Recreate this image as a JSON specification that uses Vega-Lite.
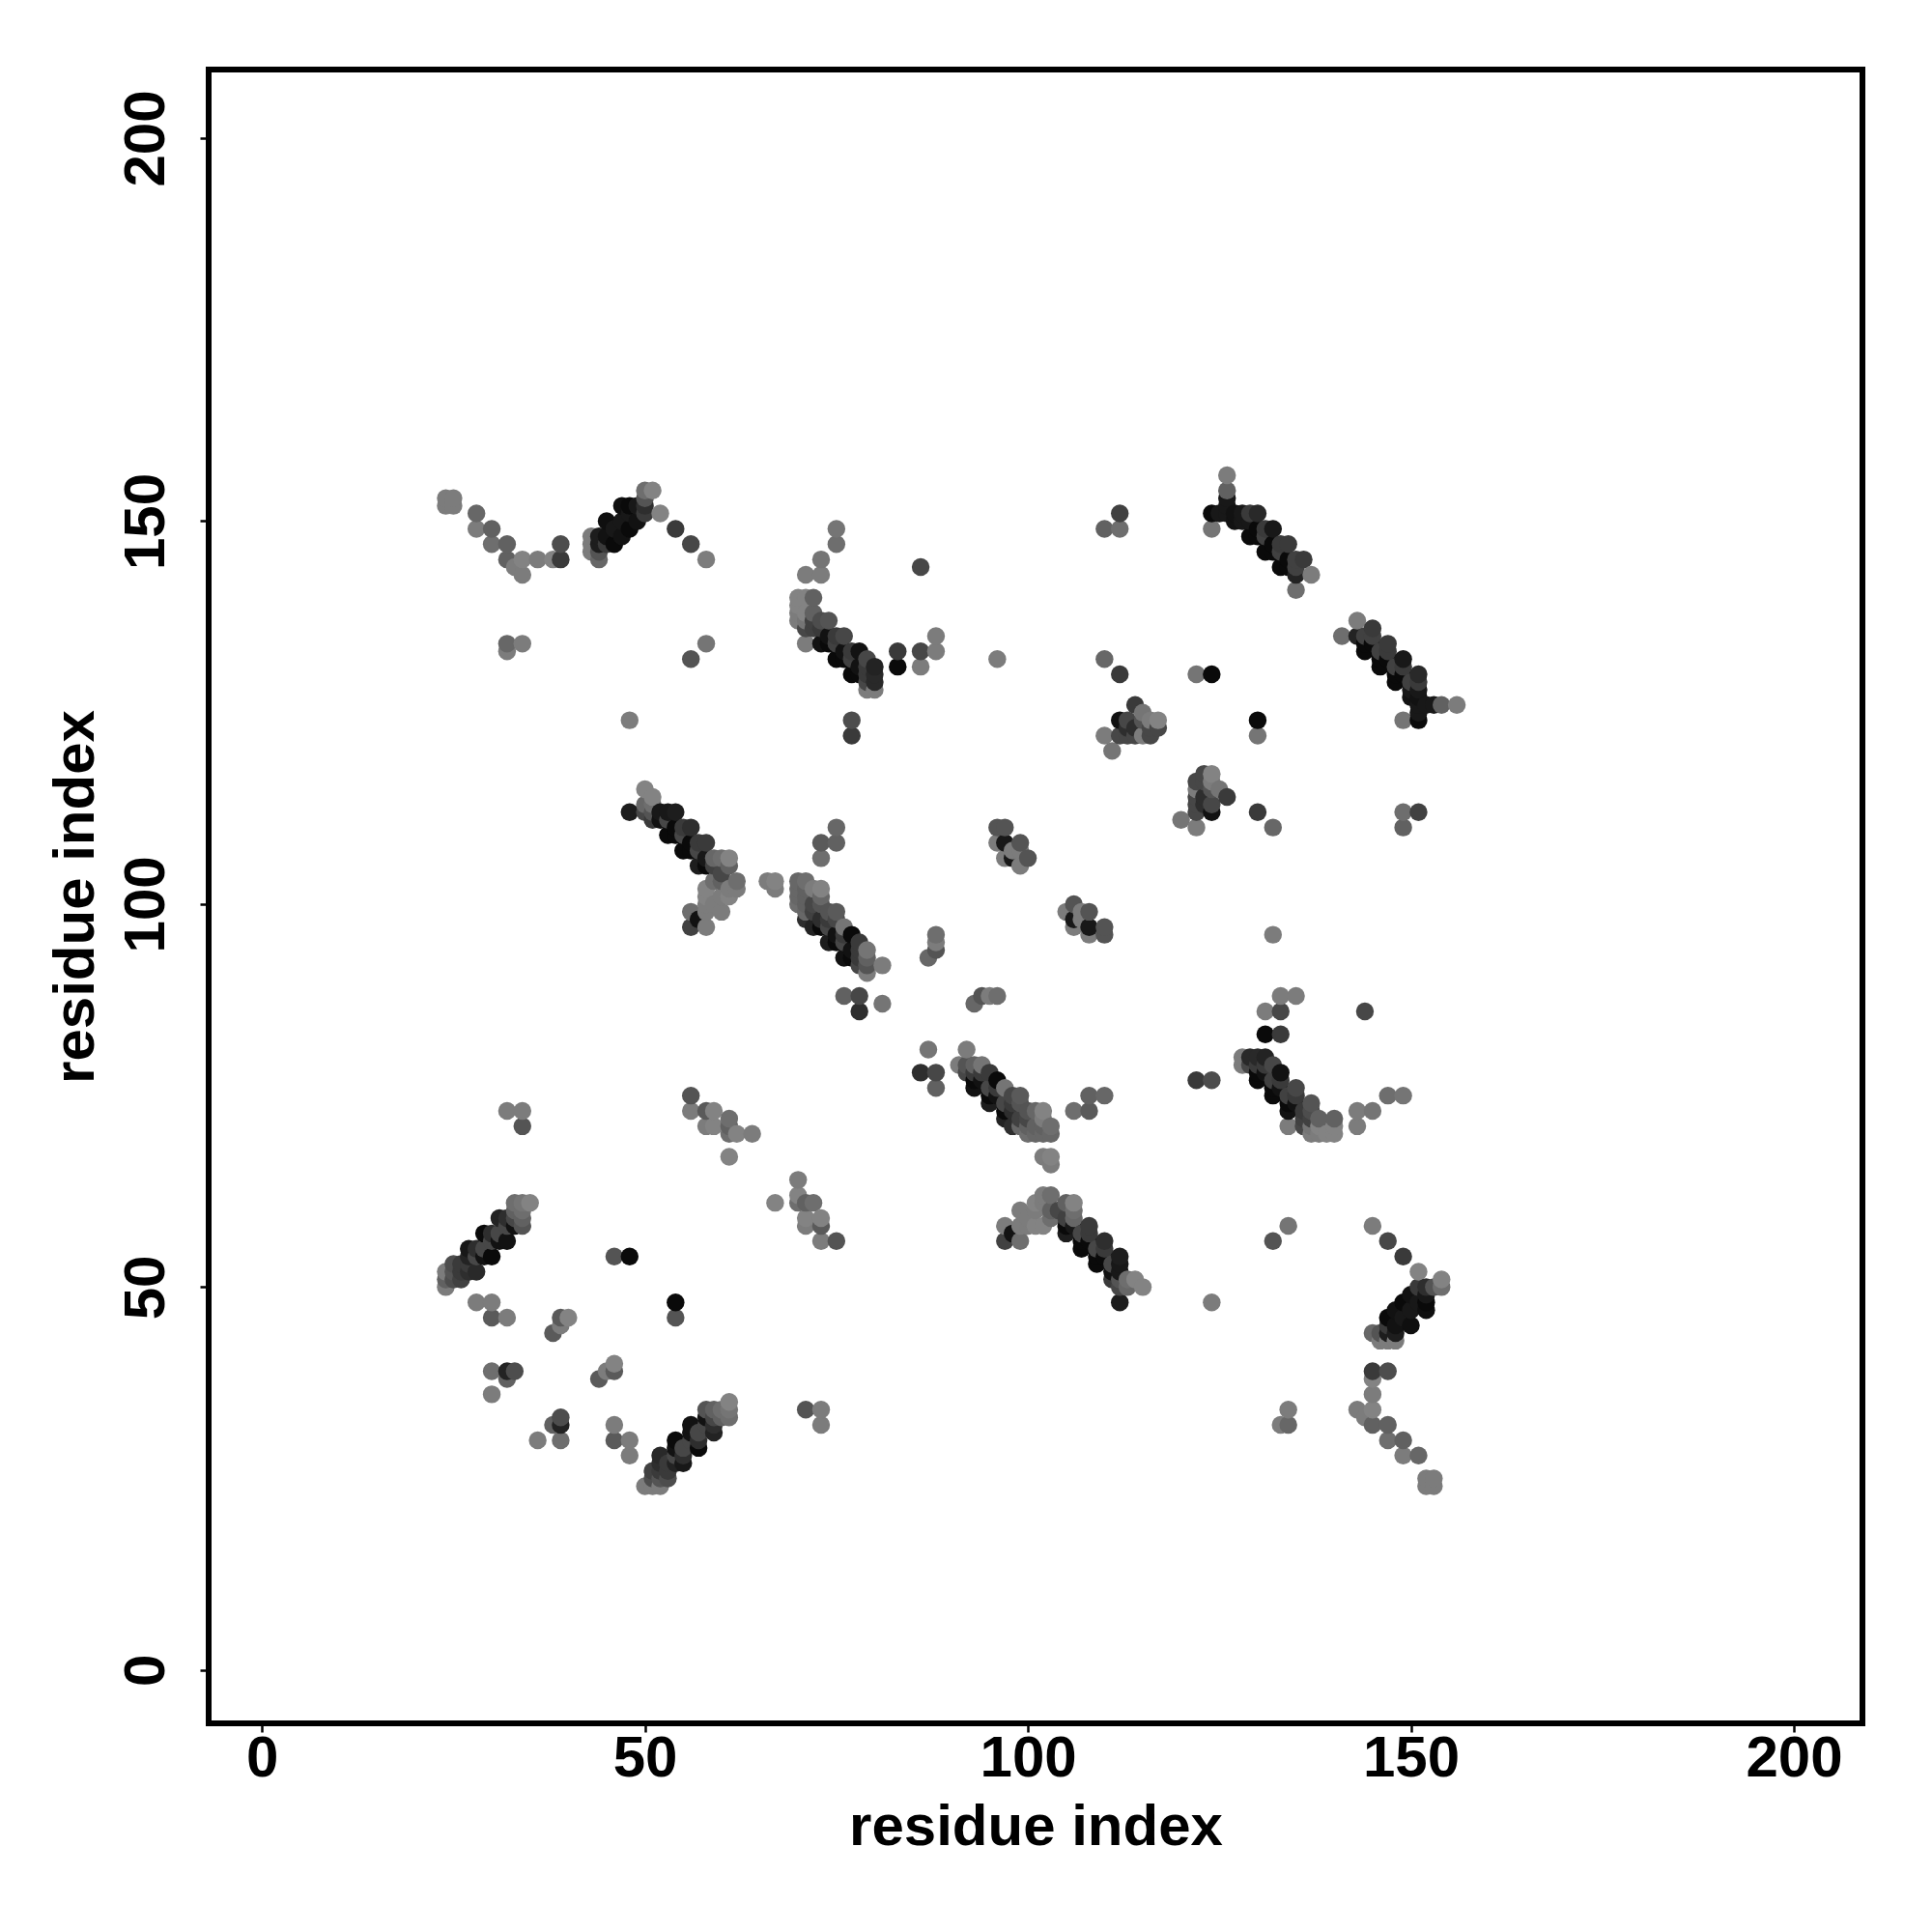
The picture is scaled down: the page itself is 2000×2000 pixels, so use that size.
{"$schema":"https://vega.github.io/schema/vega-lite/v6.json","autosize":{"type":"none"},"padding":{"left":216,"top":72,"right":72,"bottom":216},"width":1712,"height":1712,"background":"white","config":{"view":{"stroke":"#000000","strokeWidth":6,"fill":"white"}},"data":{"values":[
{"x":24,"y":50,"s":10},{"x":24,"y":51,"s":30},{"x":24,"y":52,"s":10},{"x":24,"y":152,"s":10},{"x":24,"y":153,"s":10},
{"x":25,"y":51,"s":45},{"x":25,"y":52,"s":40},{"x":25,"y":53,"s":45},{"x":25,"y":152,"s":10},{"x":25,"y":153,"s":10},
{"x":26,"y":51,"s":55},{"x":26,"y":52,"s":60},{"x":26,"y":53,"s":60},
{"x":27,"y":52,"s":70},{"x":27,"y":53,"s":60},{"x":27,"y":54,"s":80},{"x":27,"y":55,"s":90},
{"x":28,"y":48,"s":10},{"x":28,"y":52,"s":75},{"x":28,"y":54,"s":50},{"x":28,"y":55,"s":70},{"x":28,"y":149,"s":10},{"x":28,"y":151,"s":25},
{"x":29,"y":54,"s":95},{"x":29,"y":55,"s":50},{"x":29,"y":57,"s":100},
{"x":30,"y":36,"s":10},{"x":30,"y":39,"s":20},{"x":30,"y":46,"s":35},{"x":30,"y":48,"s":10},{"x":30,"y":54,"s":100},{"x":30,"y":56,"s":50},{"x":30,"y":57,"s":70},{"x":30,"y":147,"s":20},{"x":30,"y":149,"s":30},
{"x":31,"y":56,"s":95},{"x":31,"y":57,"s":50},{"x":31,"y":59,"s":80},
{"x":32,"y":38,"s":30},{"x":32,"y":39,"s":80},{"x":32,"y":46,"s":10},{"x":32,"y":56,"s":95},{"x":32,"y":58,"s":50},{"x":32,"y":59,"s":70},{"x":32,"y":73,"s":10},{"x":32,"y":133,"s":10},{"x":32,"y":134,"s":25},{"x":32,"y":145,"s":30},{"x":32,"y":147,"s":30},
{"x":33,"y":39,"s":45},{"x":33,"y":58,"s":95},{"x":33,"y":59,"s":50},{"x":33,"y":60,"s":30},{"x":33,"y":61,"s":20},{"x":33,"y":144,"s":10},
{"x":34,"y":58,"s":40},{"x":34,"y":59,"s":30},{"x":34,"y":60,"s":20},{"x":34,"y":61,"s":15},{"x":34,"y":71,"s":40},{"x":34,"y":73,"s":10},{"x":34,"y":134,"s":10},{"x":34,"y":143,"s":10},{"x":34,"y":145,"s":5},
{"x":35,"y":61,"s":5},
{"x":36,"y":30,"s":10},{"x":36,"y":145,"s":10},
{"x":38,"y":32,"s":30},{"x":38,"y":44,"s":35},{"x":38,"y":145,"s":5},
{"x":39,"y":30,"s":20},{"x":39,"y":32,"s":80},{"x":39,"y":33,"s":45},{"x":39,"y":45,"s":10},{"x":39,"y":46,"s":35},{"x":39,"y":145,"s":60},{"x":39,"y":147,"s":45},
{"x":40,"y":46,"s":5},
{"x":43,"y":146,"s":10},{"x":43,"y":147,"s":10},{"x":43,"y":148,"s":10},
{"x":44,"y":38,"s":35},{"x":44,"y":145,"s":25},{"x":44,"y":146,"s":40},{"x":44,"y":147,"s":85},{"x":44,"y":148,"s":85},
{"x":45,"y":39,"s":10},{"x":45,"y":147,"s":60},{"x":45,"y":148,"s":95},{"x":45,"y":150,"s":97},
{"x":46,"y":30,"s":35},{"x":46,"y":32,"s":10},{"x":46,"y":39,"s":35},{"x":46,"y":40,"s":5},{"x":46,"y":54,"s":40},{"x":46,"y":147,"s":100},{"x":46,"y":149,"s":90},
{"x":47,"y":148,"s":95},{"x":47,"y":150,"s":90},{"x":47,"y":152,"s":97},
{"x":48,"y":28,"s":10},{"x":48,"y":30,"s":10},{"x":48,"y":54,"s":100},{"x":48,"y":112,"s":85},{"x":48,"y":124,"s":10},{"x":48,"y":149,"s":100},{"x":48,"y":151,"s":90},{"x":48,"y":152,"s":100},
{"x":49,"y":150,"s":95},{"x":49,"y":152,"s":90},
{"x":50,"y":24,"s":10},{"x":50,"y":112,"s":50},{"x":50,"y":113,"s":25},{"x":50,"y":115,"s":5},{"x":50,"y":151,"s":60},{"x":50,"y":152,"s":70},{"x":50,"y":153,"s":40},{"x":50,"y":154,"s":20},
{"x":51,"y":24,"s":10},{"x":51,"y":25,"s":45},{"x":51,"y":26,"s":55},{"x":51,"y":111,"s":60},{"x":51,"y":112,"s":40},{"x":51,"y":113,"s":20},{"x":51,"y":114,"s":5},{"x":51,"y":154,"s":5},
{"x":52,"y":24,"s":10},{"x":52,"y":25,"s":40},{"x":52,"y":26,"s":60},{"x":52,"y":27,"s":70},{"x":52,"y":28,"s":75},{"x":52,"y":111,"s":95},{"x":52,"y":112,"s":90},{"x":52,"y":151,"s":5},
{"x":53,"y":25,"s":45},{"x":53,"y":26,"s":60},{"x":53,"y":27,"s":60},{"x":53,"y":109,"s":100},{"x":53,"y":111,"s":50},{"x":53,"y":112,"s":90},
{"x":54,"y":27,"s":80},{"x":54,"y":28,"s":50},{"x":54,"y":29,"s":95},{"x":54,"y":30,"s":100},{"x":54,"y":46,"s":40},{"x":54,"y":48,"s":100},{"x":54,"y":109,"s":100},{"x":54,"y":110,"s":100},{"x":54,"y":112,"s":85},{"x":54,"y":149,"s":60},
{"x":55,"y":27,"s":90},{"x":55,"y":28,"s":70},{"x":55,"y":29,"s":50},{"x":55,"y":107,"s":100},{"x":55,"y":109,"s":50},{"x":55,"y":110,"s":60},
{"x":56,"y":30,"s":50},{"x":56,"y":31,"s":95},{"x":56,"y":32,"s":95},{"x":56,"y":73,"s":10},{"x":56,"y":75,"s":40},{"x":56,"y":97,"s":55},{"x":56,"y":99,"s":20},{"x":56,"y":107,"s":100},{"x":56,"y":108,"s":100},{"x":56,"y":110,"s":70},{"x":56,"y":132,"s":40},{"x":56,"y":147,"s":50},
{"x":57,"y":29,"s":100},{"x":57,"y":30,"s":70},{"x":57,"y":31,"s":50},{"x":57,"y":98,"s":95},{"x":57,"y":105,"s":85},{"x":57,"y":107,"s":50},{"x":57,"y":108,"s":60},
{"x":58,"y":32,"s":50},{"x":58,"y":33,"s":95},{"x":58,"y":34,"s":40},{"x":58,"y":71,"s":10},{"x":58,"y":73,"s":35},{"x":58,"y":97,"s":10},{"x":58,"y":99,"s":10},{"x":58,"y":100,"s":10},{"x":58,"y":101,"s":5},{"x":58,"y":102,"s":5},{"x":58,"y":105,"s":100},{"x":58,"y":106,"s":90},{"x":58,"y":108,"s":60},{"x":58,"y":134,"s":15},{"x":58,"y":145,"s":10},
{"x":59,"y":31,"s":80},{"x":59,"y":32,"s":70},{"x":59,"y":33,"s":50},{"x":59,"y":34,"s":30},{"x":59,"y":71,"s":5},{"x":59,"y":73,"s":5},{"x":59,"y":100,"s":10},{"x":59,"y":103,"s":20},{"x":59,"y":105,"s":55},{"x":59,"y":106,"s":25},
{"x":60,"y":33,"s":30},{"x":60,"y":34,"s":20},{"x":60,"y":99,"s":10},{"x":60,"y":101,"s":10},{"x":60,"y":103,"s":30},{"x":60,"y":104,"s":50},{"x":60,"y":106,"s":20},
{"x":61,"y":33,"s":20},{"x":61,"y":34,"s":15},{"x":61,"y":35,"s":5},{"x":61,"y":67,"s":5},{"x":61,"y":70,"s":20},{"x":61,"y":71,"s":30},{"x":61,"y":72,"s":20},{"x":61,"y":101,"s":5},{"x":61,"y":102,"s":10},{"x":61,"y":105,"s":30},{"x":61,"y":106,"s":5},
{"x":62,"y":70,"s":5},{"x":62,"y":102,"s":10},{"x":62,"y":103,"s":20},
{"x":64,"y":70,"s":10},
{"x":66,"y":103,"s":10},
{"x":67,"y":61,"s":5},{"x":67,"y":102,"s":10},{"x":67,"y":103,"s":5},
{"x":70,"y":61,"s":20},{"x":70,"y":62,"s":5},{"x":70,"y":64,"s":10},{"x":70,"y":100,"s":20},{"x":70,"y":101,"s":25},{"x":70,"y":102,"s":25},{"x":70,"y":103,"s":25},{"x":70,"y":137,"s":10},{"x":70,"y":138,"s":10},{"x":70,"y":139,"s":5},{"x":70,"y":140,"s":5},
{"x":71,"y":34,"s":40},{"x":71,"y":58,"s":10},{"x":71,"y":59,"s":5},{"x":71,"y":61,"s":30},{"x":71,"y":98,"s":70},{"x":71,"y":99,"s":25},{"x":71,"y":100,"s":30},{"x":71,"y":101,"s":30},{"x":71,"y":102,"s":30},{"x":71,"y":103,"s":20},{"x":71,"y":134,"s":10},{"x":71,"y":136,"s":50},{"x":71,"y":137,"s":15},{"x":71,"y":138,"s":5},{"x":71,"y":140,"s":5},{"x":71,"y":143,"s":10},
{"x":72,"y":61,"s":20},{"x":72,"y":97,"s":80},{"x":72,"y":99,"s":55},{"x":72,"y":100,"s":50},{"x":72,"y":102,"s":10},{"x":72,"y":136,"s":55},{"x":72,"y":137,"s":55},{"x":72,"y":138,"s":30},{"x":72,"y":140,"s":30},
{"x":73,"y":32,"s":10},{"x":73,"y":34,"s":10},{"x":73,"y":56,"s":10},{"x":73,"y":58,"s":35},{"x":73,"y":59,"s":5},{"x":73,"y":97,"s":100},{"x":73,"y":98,"s":70},{"x":73,"y":100,"s":40},{"x":73,"y":101,"s":25},{"x":73,"y":102,"s":5},{"x":73,"y":106,"s":20},{"x":73,"y":108,"s":35},{"x":73,"y":134,"s":95},{"x":73,"y":136,"s":60},{"x":73,"y":137,"s":45},{"x":73,"y":143,"s":10},{"x":73,"y":145,"s":15},
{"x":74,"y":95,"s":85},{"x":74,"y":97,"s":50},{"x":74,"y":98,"s":60},{"x":74,"y":99,"s":40},{"x":74,"y":134,"s":100},{"x":74,"y":135,"s":95},{"x":74,"y":137,"s":40},
{"x":75,"y":56,"s":40},{"x":75,"y":95,"s":100},{"x":75,"y":96,"s":95},{"x":75,"y":98,"s":50},{"x":75,"y":99,"s":35},{"x":75,"y":108,"s":30},{"x":75,"y":110,"s":25},{"x":75,"y":132,"s":100},{"x":75,"y":134,"s":55},{"x":75,"y":135,"s":60},{"x":75,"y":147,"s":20},{"x":75,"y":149,"s":15},
{"x":76,"y":88,"s":30},{"x":76,"y":93,"s":95},{"x":76,"y":95,"s":50},{"x":76,"y":96,"s":60},{"x":76,"y":97,"s":15},{"x":76,"y":132,"s":100},{"x":76,"y":133,"s":95},{"x":76,"y":135,"s":50},
{"x":77,"y":93,"s":100},{"x":77,"y":94,"s":95},{"x":77,"y":96,"s":100},{"x":77,"y":122,"s":60},{"x":77,"y":124,"s":45},{"x":77,"y":130,"s":100},{"x":77,"y":132,"s":55},{"x":77,"y":133,"s":60},
{"x":78,"y":86,"s":70},{"x":78,"y":88,"s":50},{"x":78,"y":92,"s":50},{"x":78,"y":93,"s":60},{"x":78,"y":94,"s":60},{"x":78,"y":95,"s":60},{"x":78,"y":130,"s":100},{"x":78,"y":131,"s":95},{"x":78,"y":133,"s":95},
{"x":79,"y":91,"s":10},{"x":79,"y":92,"s":40},{"x":79,"y":93,"s":30},{"x":79,"y":94,"s":15},{"x":79,"y":128,"s":10},{"x":79,"y":129,"s":50},{"x":79,"y":130,"s":60},{"x":79,"y":131,"s":60},{"x":79,"y":132,"s":50},
{"x":80,"y":128,"s":10},{"x":80,"y":129,"s":75},{"x":80,"y":130,"s":75},{"x":80,"y":131,"s":80},
{"x":81,"y":87,"s":15},{"x":81,"y":92,"s":10},
{"x":83,"y":131,"s":100},{"x":83,"y":133,"s":60},
{"x":86,"y":78,"s":70},{"x":86,"y":131,"s":10},{"x":86,"y":133,"s":50},{"x":86,"y":144,"s":50},
{"x":87,"y":81,"s":15},{"x":87,"y":93,"s":25},
{"x":88,"y":76,"s":30},{"x":88,"y":78,"s":50},{"x":88,"y":94,"s":40},{"x":88,"y":95,"s":10},{"x":88,"y":96,"s":20},{"x":88,"y":133,"s":10},{"x":88,"y":135,"s":10},
{"x":91,"y":79,"s":10},
{"x":92,"y":78,"s":50},{"x":92,"y":79,"s":40},{"x":92,"y":81,"s":10},
{"x":93,"y":76,"s":95},{"x":93,"y":77,"s":100},{"x":93,"y":78,"s":60},{"x":93,"y":79,"s":30},{"x":93,"y":87,"s":25},
{"x":94,"y":77,"s":95},{"x":94,"y":78,"s":60},{"x":94,"y":79,"s":15},{"x":94,"y":88,"s":40},
{"x":95,"y":74,"s":85},{"x":95,"y":75,"s":100},{"x":95,"y":76,"s":50},{"x":95,"y":78,"s":60},{"x":95,"y":88,"s":10},
{"x":96,"y":75,"s":95},{"x":96,"y":76,"s":60},{"x":96,"y":77,"s":100},{"x":96,"y":88,"s":20},{"x":96,"y":108,"s":10},{"x":96,"y":110,"s":40},{"x":96,"y":132,"s":10},
{"x":97,"y":56,"s":55},{"x":97,"y":58,"s":10},{"x":97,"y":72,"s":80},{"x":97,"y":73,"s":100},{"x":97,"y":74,"s":50},{"x":97,"y":76,"s":15},{"x":97,"y":106,"s":10},{"x":97,"y":108,"s":90},{"x":97,"y":110,"s":40},
{"x":98,"y":57,"s":95},{"x":98,"y":71,"s":70},{"x":98,"y":73,"s":70},{"x":98,"y":74,"s":60},{"x":98,"y":75,"s":50},{"x":98,"y":106,"s":90},{"x":98,"y":107,"s":10},
{"x":99,"y":56,"s":20},{"x":99,"y":58,"s":10},{"x":99,"y":60,"s":10},{"x":99,"y":71,"s":25},{"x":99,"y":72,"s":55},{"x":99,"y":74,"s":40},{"x":99,"y":75,"s":35},{"x":99,"y":105,"s":10},{"x":99,"y":107,"s":10},{"x":99,"y":108,"s":40},
{"x":100,"y":58,"s":10},{"x":100,"y":59,"s":10},{"x":100,"y":70,"s":20},{"x":100,"y":71,"s":30},{"x":100,"y":72,"s":50},{"x":100,"y":73,"s":40},{"x":100,"y":106,"s":40},
{"x":101,"y":58,"s":5},{"x":101,"y":60,"s":10},{"x":101,"y":61,"s":5},{"x":101,"y":70,"s":25},{"x":101,"y":71,"s":30},{"x":101,"y":73,"s":25},
{"x":102,"y":58,"s":5},{"x":102,"y":61,"s":10},{"x":102,"y":62,"s":10},{"x":102,"y":67,"s":10},{"x":102,"y":70,"s":25},{"x":102,"y":71,"s":30},{"x":102,"y":72,"s":10},{"x":102,"y":73,"s":5},
{"x":103,"y":59,"s":20},{"x":103,"y":60,"s":30},{"x":103,"y":62,"s":20},{"x":103,"y":66,"s":10},{"x":103,"y":67,"s":5},{"x":103,"y":70,"s":25},{"x":103,"y":71,"s":20},
{"x":104,"y":60,"s":50},
{"x":105,"y":57,"s":85},{"x":105,"y":58,"s":100},{"x":105,"y":59,"s":55},{"x":105,"y":61,"s":30},{"x":105,"y":99,"s":10},
{"x":106,"y":58,"s":90},{"x":106,"y":59,"s":25},{"x":106,"y":60,"s":20},{"x":106,"y":61,"s":5},{"x":106,"y":73,"s":20},{"x":106,"y":97,"s":10},{"x":106,"y":98,"s":90},{"x":106,"y":100,"s":40},
{"x":107,"y":55,"s":100},{"x":107,"y":56,"s":100},{"x":107,"y":57,"s":50},{"x":107,"y":98,"s":10},{"x":107,"y":99,"s":10},
{"x":108,"y":56,"s":100},{"x":108,"y":57,"s":60},{"x":108,"y":58,"s":60},{"x":108,"y":73,"s":35},{"x":108,"y":75,"s":30},{"x":108,"y":96,"s":10},{"x":108,"y":97,"s":90},{"x":108,"y":99,"s":40},
{"x":109,"y":53,"s":100},{"x":109,"y":54,"s":100},{"x":109,"y":55,"s":50},
{"x":110,"y":54,"s":100},{"x":110,"y":55,"s":60},{"x":110,"y":56,"s":70},{"x":110,"y":75,"s":25},{"x":110,"y":96,"s":40},{"x":110,"y":97,"s":40},{"x":110,"y":122,"s":10},{"x":110,"y":132,"s":25},{"x":110,"y":149,"s":30},
{"x":111,"y":51,"s":60},{"x":111,"y":52,"s":95},{"x":111,"y":53,"s":50},{"x":111,"y":120,"s":15},
{"x":112,"y":48,"s":85},{"x":112,"y":50,"s":50},{"x":112,"y":51,"s":40},{"x":112,"y":52,"s":90},{"x":112,"y":53,"s":90},{"x":112,"y":54,"s":85},{"x":112,"y":122,"s":50},{"x":112,"y":124,"s":95},{"x":112,"y":130,"s":60},{"x":112,"y":149,"s":20},{"x":112,"y":151,"s":55},
{"x":113,"y":50,"s":25},{"x":113,"y":51,"s":20},{"x":113,"y":122,"s":50},{"x":113,"y":123,"s":70},{"x":113,"y":124,"s":50},
{"x":114,"y":51,"s":5},{"x":114,"y":122,"s":50},{"x":114,"y":123,"s":70},{"x":114,"y":126,"s":60},
{"x":115,"y":50,"s":5},{"x":115,"y":122,"s":10},{"x":115,"y":124,"s":40},{"x":115,"y":125,"s":15},
{"x":116,"y":122,"s":50},{"x":116,"y":123,"s":50},{"x":116,"y":124,"s":10},
{"x":117,"y":123,"s":50},{"x":117,"y":124,"s":5},
{"x":120,"y":111,"s":15},
{"x":122,"y":77,"s":60},{"x":122,"y":110,"s":10},{"x":122,"y":112,"s":50},{"x":122,"y":113,"s":50},{"x":122,"y":114,"s":50},{"x":122,"y":115,"s":10},{"x":122,"y":116,"s":50},{"x":122,"y":130,"s":15},
{"x":123,"y":113,"s":70},{"x":123,"y":114,"s":70},{"x":123,"y":116,"s":50},{"x":123,"y":117,"s":50},
{"x":124,"y":48,"s":10},{"x":124,"y":77,"s":45},{"x":124,"y":112,"s":95},{"x":124,"y":113,"s":50},{"x":124,"y":115,"s":40},{"x":124,"y":116,"s":10},{"x":124,"y":117,"s":5},{"x":124,"y":130,"s":100},{"x":124,"y":149,"s":15},{"x":124,"y":151,"s":100},
{"x":125,"y":115,"s":15},{"x":125,"y":151,"s":90},
{"x":126,"y":114,"s":60},{"x":126,"y":151,"s":90},{"x":126,"y":152,"s":90},{"x":126,"y":153,"s":90},{"x":126,"y":154,"s":30},{"x":126,"y":156,"s":10},
{"x":127,"y":150,"s":95},{"x":127,"y":151,"s":95},
{"x":128,"y":79,"s":10},{"x":128,"y":80,"s":10},{"x":128,"y":150,"s":90},{"x":128,"y":151,"s":90},
{"x":129,"y":79,"s":50},{"x":129,"y":80,"s":75},{"x":129,"y":148,"s":100},{"x":129,"y":150,"s":90},{"x":129,"y":151,"s":60},
{"x":130,"y":77,"s":100},{"x":130,"y":78,"s":100},{"x":130,"y":79,"s":60},{"x":130,"y":80,"s":75},{"x":130,"y":112,"s":60},{"x":130,"y":122,"s":15},{"x":130,"y":124,"s":100},{"x":130,"y":148,"s":100},{"x":130,"y":149,"s":100},{"x":130,"y":151,"s":75},
{"x":131,"y":78,"s":95},{"x":131,"y":79,"s":60},{"x":131,"y":80,"s":80},{"x":131,"y":83,"s":100},{"x":131,"y":86,"s":10},{"x":131,"y":146,"s":100},{"x":131,"y":148,"s":55},{"x":131,"y":149,"s":60},
{"x":132,"y":56,"s":40},{"x":132,"y":75,"s":100},{"x":132,"y":76,"s":100},{"x":132,"y":77,"s":55},{"x":132,"y":79,"s":50},{"x":132,"y":96,"s":10},{"x":132,"y":110,"s":25},{"x":132,"y":146,"s":100},{"x":132,"y":147,"s":100},{"x":132,"y":149,"s":90},
{"x":133,"y":32,"s":10},{"x":133,"y":76,"s":95},{"x":133,"y":77,"s":60},{"x":133,"y":78,"s":95},{"x":133,"y":83,"s":60},{"x":133,"y":86,"s":50},{"x":133,"y":88,"s":10},{"x":133,"y":144,"s":100},{"x":133,"y":146,"s":55},{"x":133,"y":147,"s":60},
{"x":134,"y":32,"s":25},{"x":134,"y":34,"s":10},{"x":134,"y":58,"s":15},{"x":134,"y":71,"s":10},{"x":134,"y":73,"s":95},{"x":134,"y":74,"s":100},{"x":134,"y":75,"s":55},{"x":134,"y":144,"s":100},{"x":134,"y":145,"s":100},{"x":134,"y":147,"s":60},
{"x":135,"y":74,"s":95},{"x":135,"y":75,"s":60},{"x":135,"y":76,"s":50},{"x":135,"y":88,"s":10},{"x":135,"y":141,"s":20},{"x":135,"y":143,"s":80},{"x":135,"y":144,"s":55},{"x":135,"y":145,"s":55},
{"x":136,"y":71,"s":50},{"x":136,"y":72,"s":55},{"x":136,"y":73,"s":60},{"x":136,"y":145,"s":60},
{"x":137,"y":70,"s":10},{"x":137,"y":71,"s":15},{"x":137,"y":72,"s":55},{"x":137,"y":73,"s":45},{"x":137,"y":74,"s":40},{"x":137,"y":143,"s":10},
{"x":138,"y":70,"s":10},{"x":138,"y":71,"s":5},{"x":138,"y":72,"s":30},
{"x":139,"y":70,"s":5},
{"x":140,"y":70,"s":5},{"x":140,"y":71,"s":5},{"x":140,"y":72,"s":30},
{"x":141,"y":135,"s":20},
{"x":143,"y":34,"s":10},{"x":143,"y":71,"s":10},{"x":143,"y":73,"s":10},{"x":143,"y":135,"s":80},{"x":143,"y":137,"s":10},
{"x":144,"y":33,"s":10},{"x":144,"y":86,"s":50},{"x":144,"y":133,"s":100},{"x":144,"y":134,"s":100},{"x":144,"y":135,"s":55},
{"x":145,"y":32,"s":30},{"x":145,"y":34,"s":5},{"x":145,"y":36,"s":10},{"x":145,"y":38,"s":5},{"x":145,"y":39,"s":60},{"x":145,"y":44,"s":25},{"x":145,"y":58,"s":10},{"x":145,"y":73,"s":15},{"x":145,"y":134,"s":100},{"x":145,"y":135,"s":55},{"x":145,"y":136,"s":60},
{"x":146,"y":43,"s":10},{"x":146,"y":44,"s":40},{"x":146,"y":131,"s":100},{"x":146,"y":132,"s":100},{"x":146,"y":133,"s":55},
{"x":147,"y":30,"s":20},{"x":147,"y":32,"s":30},{"x":147,"y":39,"s":45},{"x":147,"y":43,"s":10},{"x":147,"y":44,"s":85},{"x":147,"y":45,"s":60},{"x":147,"y":46,"s":100},{"x":147,"y":56,"s":50},{"x":147,"y":75,"s":20},{"x":147,"y":132,"s":100},{"x":147,"y":133,"s":60},{"x":147,"y":134,"s":60},
{"x":148,"y":43,"s":10},{"x":148,"y":44,"s":85},{"x":148,"y":45,"s":95},{"x":148,"y":47,"s":95},{"x":148,"y":129,"s":100},{"x":148,"y":130,"s":100},{"x":148,"y":131,"s":55},
{"x":149,"y":28,"s":10},{"x":149,"y":30,"s":30},{"x":149,"y":46,"s":90},{"x":149,"y":48,"s":100},{"x":149,"y":54,"s":60},{"x":149,"y":75,"s":15},{"x":149,"y":110,"s":30},{"x":149,"y":112,"s":20},{"x":149,"y":124,"s":15},{"x":149,"y":130,"s":100},{"x":149,"y":131,"s":60},{"x":149,"y":132,"s":90},
{"x":150,"y":45,"s":97},{"x":150,"y":47,"s":90},{"x":150,"y":49,"s":95},{"x":150,"y":127,"s":95},{"x":150,"y":128,"s":90},{"x":150,"y":129,"s":55},
{"x":151,"y":28,"s":25},{"x":151,"y":48,"s":90},{"x":151,"y":50,"s":60},{"x":151,"y":52,"s":5},{"x":151,"y":112,"s":55},{"x":151,"y":124,"s":100},{"x":151,"y":125,"s":90},{"x":151,"y":126,"s":90},{"x":151,"y":127,"s":95},{"x":151,"y":128,"s":90},{"x":151,"y":129,"s":60},{"x":151,"y":130,"s":75},
{"x":152,"y":24,"s":10},{"x":152,"y":25,"s":10},{"x":152,"y":47,"s":97},{"x":152,"y":48,"s":100},{"x":152,"y":49,"s":90},{"x":152,"y":50,"s":70},{"x":152,"y":126,"s":90},
{"x":153,"y":24,"s":10},{"x":153,"y":25,"s":10},{"x":153,"y":50,"s":40},{"x":153,"y":126,"s":90},
{"x":154,"y":50,"s":20},{"x":154,"y":51,"s":5},{"x":154,"y":126,"s":30},
{"x":156,"y":126,"s":10}
]},"mark":{"type":"circle","size":340,"opacity":1},"encoding":{
"x":{"field":"x","type":"quantitative","scale":{"domain":[-6.96,208.96],"nice":false,"zero":false},"axis":{"values":[0,50,100,150,200],"title":"residue index","grid":false,"domain":false,"tickColor":"#000000","tickWidth":2.5,"tickSize":9,"labelFont":"Liberation Sans","labelFontWeight":"bold","labelFontSize":60,"labelColor":"#000000","labelPadding":-2,"labelFlush":false,"labelOverlap":false,"titleFont":"Liberation Sans","titleFontWeight":"bold","titleFontSize":60,"titleColor":"#000000","titlePadding":12}},
"y":{"field":"y","type":"quantitative","scale":{"domain":[-6.96,208.96],"nice":false,"zero":false},"axis":{"values":[0,50,100,150,200],"title":"residue index","grid":false,"domain":false,"tickColor":"#000000","tickWidth":2.5,"tickSize":9,"labelFont":"Liberation Sans","labelFontWeight":"bold","labelFontSize":60,"labelColor":"#000000","labelAngle":-90,"labelPadding":25,"labelFlush":false,"labelOverlap":false,"titleFont":"Liberation Sans","titleFontWeight":"bold","titleFontSize":60,"titleColor":"#000000","titlePadding":12}},
"color":{"field":"s","type":"quantitative","scale":{"domain":[0,100],"range":["#8a8a8a","#0a0a0a"]},"legend":null}
}}
